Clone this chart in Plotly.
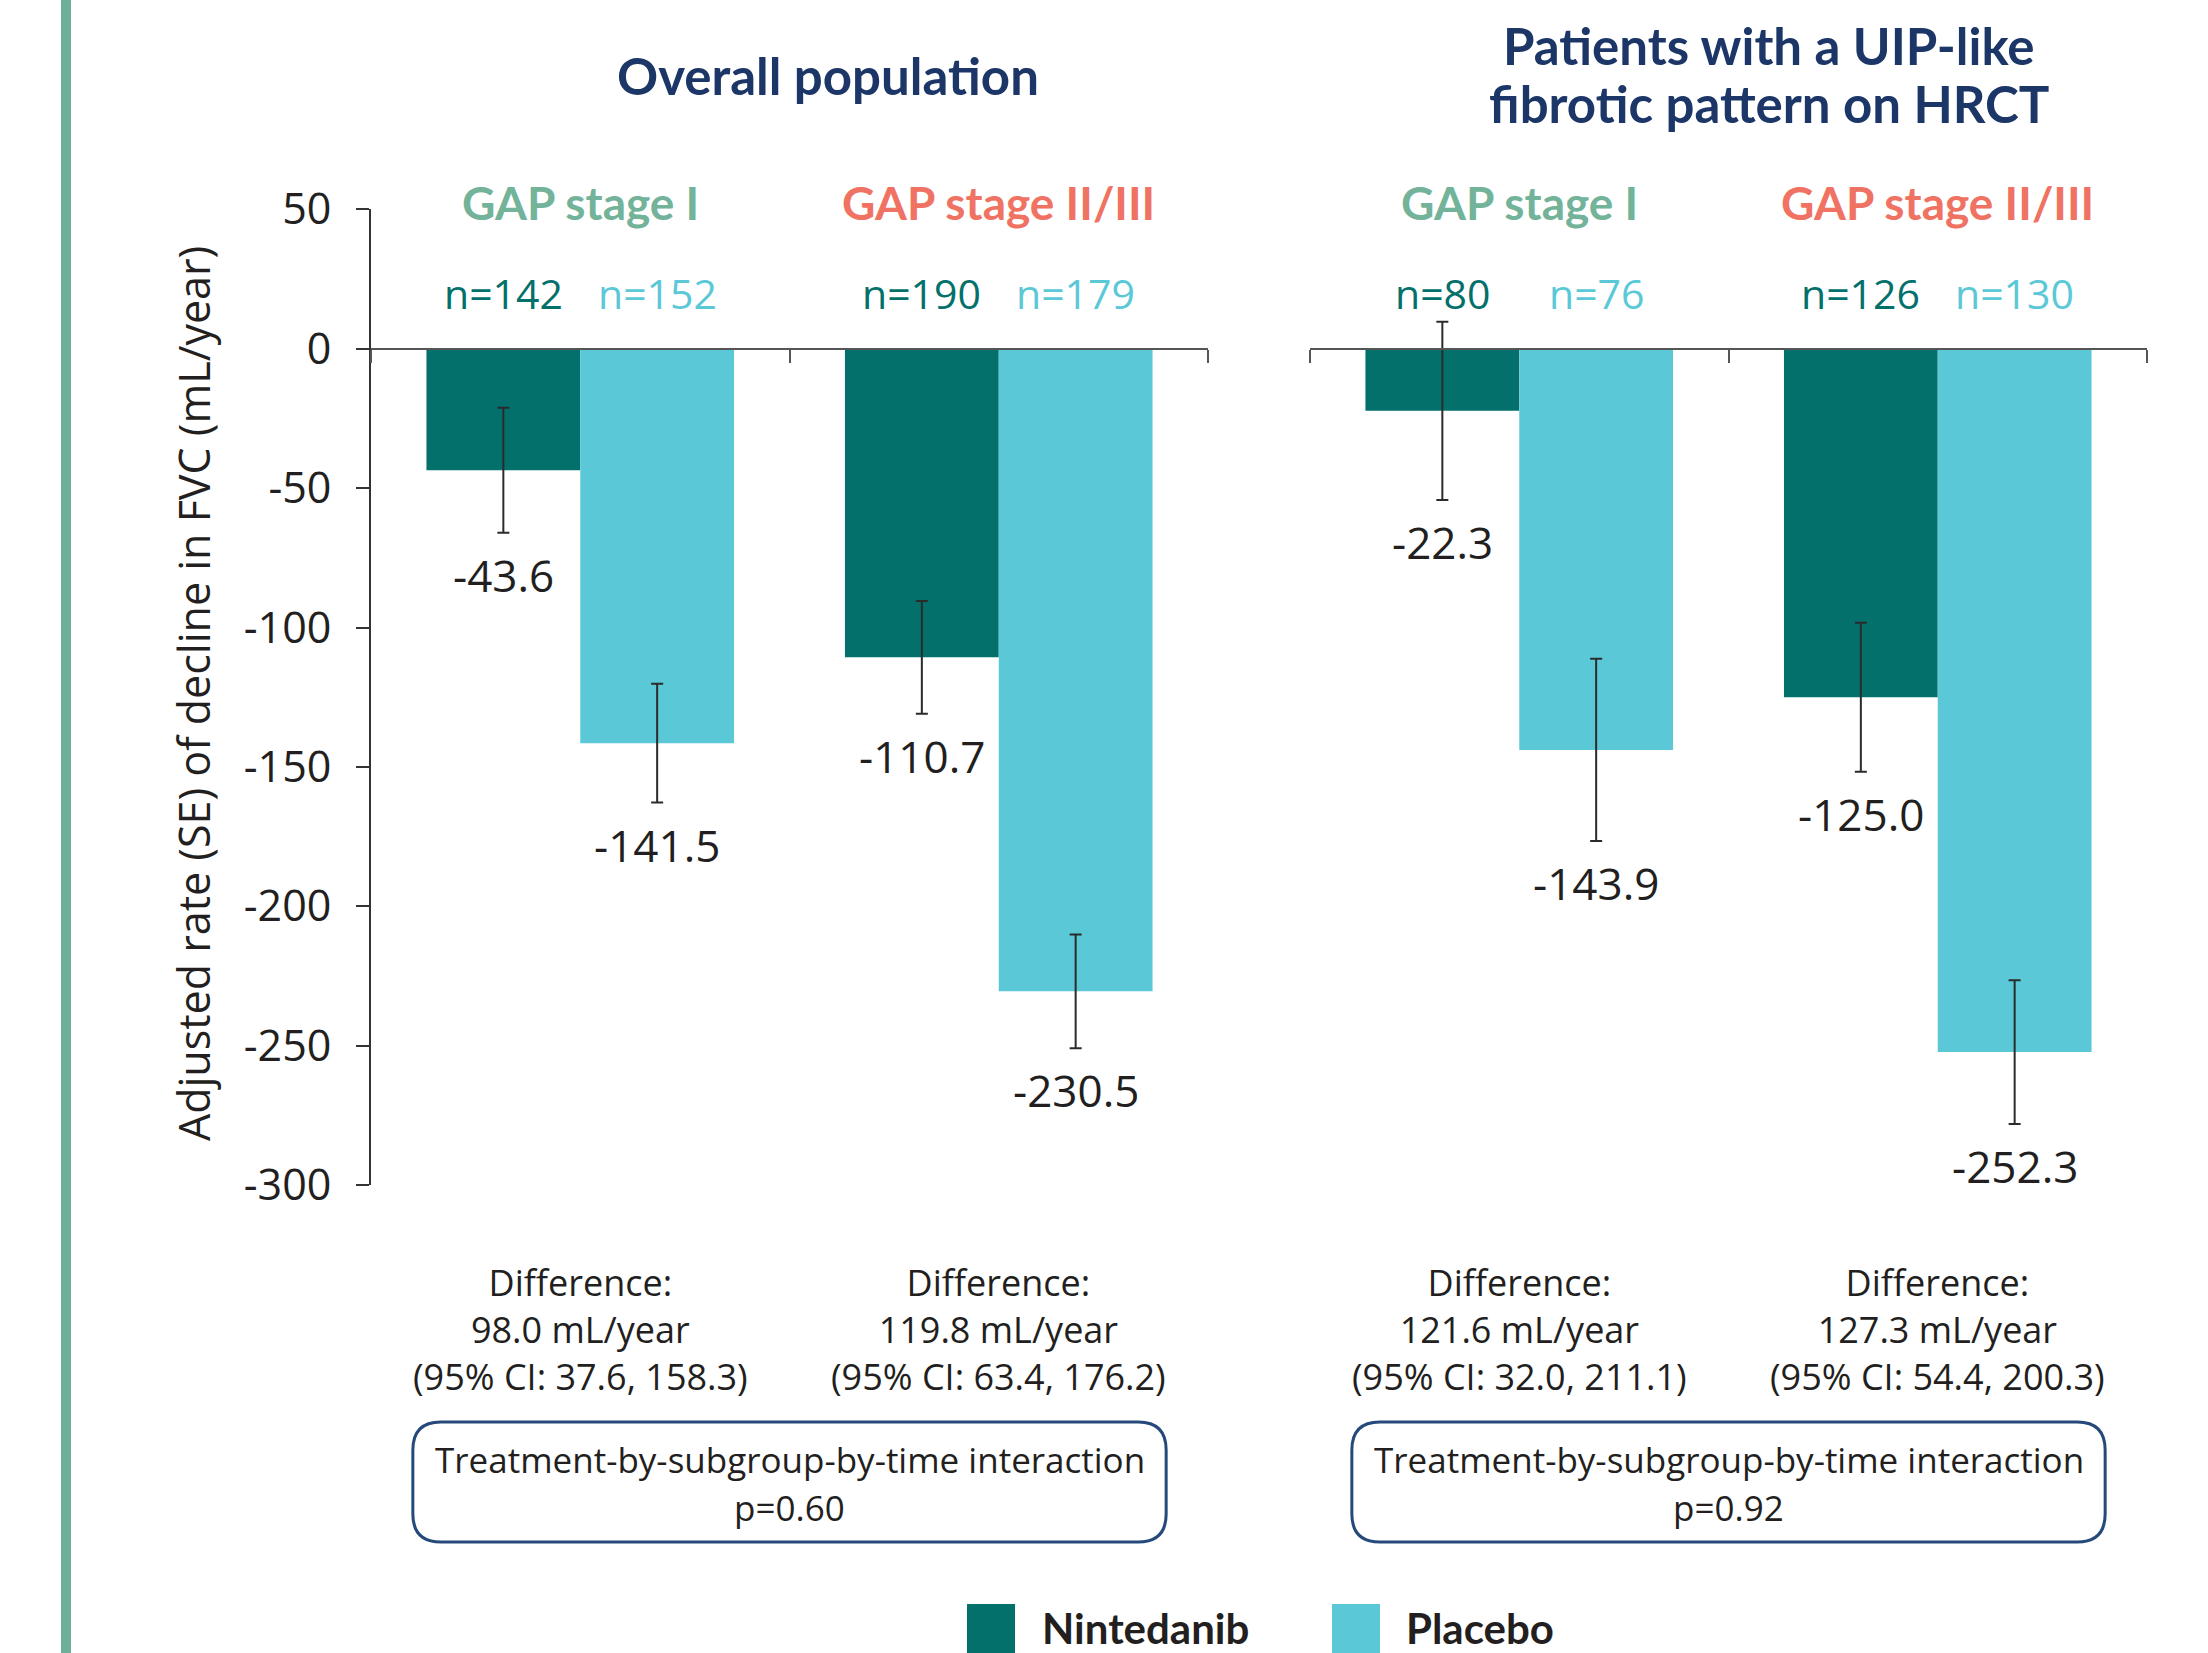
import plotly.graph_objects as go

W, H = 2208, 1653

# ---------------- data ----------------
stages = ["GAP stage I", "GAP stage II/III"]
series_names = ["Nintedanib", "Placebo"]
panel_titles = [["Overall population"], ["Patients with a UIP-like", "fibrotic pattern on HRCT"]]

nin_overall = [-43.6, -110.7]
pla_overall = [-141.5, -230.5]
nin_uip = [-22.3, -125.0]
pla_uip = [-143.9, -252.3]

nin_overall_se = [22.4, 20.2]
pla_overall_se = [21.3, 20.4]
nin_uip_se = [32.0, 26.7]
pla_uip_se = [32.7, 25.8]

n_nin_overall = [142, 190]
n_pla_overall = [152, 179]
n_nin_uip = [80, 126]
n_pla_uip = [76, 130]

diff_overall = ["98.0", "119.8"]
ci_overall = ["37.6, 158.3", "63.4, 176.2"]
diff_uip = ["121.6", "127.3"]
ci_uip = ["32.0, 211.1", "54.4, 200.3"]
p_interaction = ["0.60", "0.92"]

y_ticks = [50, 0, -50, -100, -150, -200, -250, -300]
y_tick_text = ["50", "0", "-50", "-100", "-150", "-200", "-250", "-300"]
y_range = [-300, 50]
y_title = "Adjusted rate (SE) of decline in FVC (mL/year)"

# ---------------- styles ----------------
C_NIN = "#03706b"
C_PLA = "#5bc8d8"
C_STAGE = ["#72b39a", "#f07262"]
C_NAVY = "#1b3667"
C_TEXT = "#231f20"
C_BOX = "#26497c"
BODY = "Open Sans"
HEAD = "Lato"
BARGAP = 0.265


def X(px):
    return px / W


def Y(py):
    return 1 - py / H


x_domains = [[X(371), X(1208)], [X(1310), X(2147)]]
y_domain = [Y(1185.1), Y(209.3)]
zero_pos = y_domain[0] + (0 - y_range[0]) / (y_range[1] - y_range[0]) * (y_domain[1] - y_domain[0])

panels = [
    dict(nin=nin_overall, pla=pla_overall, nse=nin_overall_se, pse=pla_overall_se,
         nn=n_nin_overall, np_=n_pla_overall, diff=diff_overall, ci=ci_overall),
    dict(nin=nin_uip, pla=pla_uip, nse=nin_uip_se, pse=pla_uip_se,
         nn=n_nin_uip, np_=n_pla_uip, diff=diff_uip, ci=ci_uip),
]

fig = go.Figure()
annotations = []
shapes = []
off = (1 - BARGAP) / 4


def ann(**kw):
    kw.setdefault("showarrow", False)
    kw.setdefault("xanchor", "center")
    kw.setdefault("yanchor", "middle")
    annotations.append(kw)


for k, p in enumerate(panels):
    xa = "x" if k == 0 else "x2"
    ya = "y" if k == 0 else "y2"
    for name, vals, se, col in [(series_names[0], p["nin"], p["nse"], C_NIN),
                                (series_names[1], p["pla"], p["pse"], C_PLA)]:
        fig.add_trace(go.Bar(
            x=stages, y=vals, name=name, marker=dict(color=col, line=dict(width=0)),
            error_y=dict(type="data", array=se, color="#2b2b2b", thickness=2, width=6),
            xaxis=xa, yaxis=ya, showlegend=False, hoverinfo="skip"))
    for i in range(len(stages)):
        # value labels beneath error bars
        for sgn, vals, se in [(-1, p["nin"], p["nse"]), (1, p["pla"], p["pse"])]:
            ann(x=i + sgn * off, y=vals[i] - se[i], xref=xa, yref=ya,
                text=f"{vals[i]:.1f}", yshift=-42,
                font=dict(family=BODY, size=44, color=C_TEXT))
        # n labels
        for sgn, nn, col in [(-1, p["nn"], C_NIN), (1, p["np_"], C_PLA)]:
            ann(x=i + sgn * off, y=Y(293), xref=xa, yref="paper",
                text=f"n={nn[i]}", font=dict(family=BODY, size=41, color=col))
        # stage labels
        ann(x=i, y=Y(203), xref=xa, yref="paper", text=stages[i],
            font=dict(family=HEAD, size=46, color=C_STAGE[i], weight=700))
        # difference text
        ann(x=i, y=Y(1329), xref=xa, yref="paper",
            text=f"Difference:<br>{p['diff'][i]} mL/year<br>(95% CI: {p['ci'][i]})",
            font=dict(family=BODY, size=36, color=C_TEXT))

    # interaction box
    d0, d1 = x_domains[k]
    bx0 = (d0 + 0.05 * (d1 - d0)) * W
    bx1 = (d0 + 0.95 * (d1 - d0)) * W
    by0, by1, r = 1422, 1542, 28
    path = (f"M {X(bx0 + r)},{Y(by0)} L {X(bx1 - r)},{Y(by0)} Q {X(bx1)},{Y(by0)} {X(bx1)},{Y(by0 + r)} "
            f"L {X(bx1)},{Y(by1 - r)} Q {X(bx1)},{Y(by1)} {X(bx1 - r)},{Y(by1)} "
            f"L {X(bx0 + r)},{Y(by1)} Q {X(bx0)},{Y(by1)} {X(bx0)},{Y(by1 - r)} "
            f"L {X(bx0)},{Y(by0 + r)} Q {X(bx0)},{Y(by0)} {X(bx0 + r)},{Y(by0)} Z")
    shapes.append(dict(type="path", path=path, xref="paper", yref="paper",
                       line=dict(color=C_BOX, width=3)))
    cx = (d0 + d1) / 2
    ann(x=cx, y=Y(1459), xref="paper", yref="paper",
        text="Treatment-by-subgroup-by-time interaction",
        font=dict(family=BODY, size=35, color=C_TEXT))
    ann(x=cx, y=Y(1507), xref="paper", yref="paper", text=f"p={p_interaction[k]}",
        font=dict(family=BODY, size=35, color=C_TEXT))

# panel titles
title_pos = [(828, [76]), (1769, [45, 103])]
for (tx, tys), lines in zip(title_pos, panel_titles):
    for ln, ty in zip(lines, tys):
        ann(x=X(tx), y=Y(ty), xref="paper", yref="paper", text=ln,
            font=dict(family=HEAD, size=51, color=C_NAVY, weight=700))

# y-axis title
ann(x=X(193), y=Y(694), xref="paper", yref="paper", text=y_title, textangle=-90,
    font=dict(family=BODY, size=43, color=C_TEXT))

# left accent bar
shapes.append(dict(type="rect", xref="paper", yref="paper", x0=X(61), x1=X(71), y0=0, y1=1,
                   fillcolor="#6fae98", line=dict(width=0), layer="below"))

# legend
for name, col, sx, tx in [(series_names[0], C_NIN, 967, 1040), (series_names[1], C_PLA, 1332, 1404)]:
    shapes.append(dict(type="rect", xref="paper", yref="paper", x0=X(sx), x1=X(sx + 48),
                       y0=Y(1604), y1=Y(1680), fillcolor=col, line=dict(width=0)))
    ann(x=X(tx), y=Y(1628), xref="paper", yref="paper", text=name, xanchor="left",
        font=dict(family=HEAD, size=42, color=C_TEXT, weight=700))

xaxis_common = dict(type="category", categoryarray=stages, categoryorder="array",
                    range=[-0.5, 1.5], anchor="free", position=zero_pos,
                    showline=True, linecolor="#555555", linewidth=2,
                    ticks="outside", tickson="boundaries", ticklen=13, tickwidth=2,
                    tickcolor="#555555", showticklabels=False, showgrid=False, zeroline=False,
                    automargin=False, fixedrange=True)

fig.update_layout(
    template="none",
    width=W, height=H,
    margin=dict(l=0, r=0, t=0, b=0, pad=0, autoexpand=False),
    paper_bgcolor="white", plot_bgcolor="rgba(0,0,0,0)",
    barmode="group", bargap=BARGAP, bargroupgap=0,
    xaxis=dict(domain=x_domains[0], **xaxis_common),
    xaxis2=dict(domain=x_domains[1], **xaxis_common),
    yaxis=dict(domain=y_domain, range=y_range, tickvals=y_ticks, ticktext=y_tick_text,
               anchor="x", showline=True, linecolor="#333333", linewidth=2,
               ticks="outside", ticklen=13, tickwidth=2, tickcolor="#333333",
               ticklabelstandoff=16, automargin=False,
               tickfont=dict(family=BODY, size=43, color=C_TEXT),
               showgrid=False, zeroline=False, fixedrange=True),
    yaxis2=dict(domain=y_domain, range=y_range, anchor="x2", visible=False, automargin=False,
                showgrid=False, zeroline=False, fixedrange=True),
    annotations=annotations,
    shapes=shapes,
    showlegend=False,
)

fig.write_html("out.html")
